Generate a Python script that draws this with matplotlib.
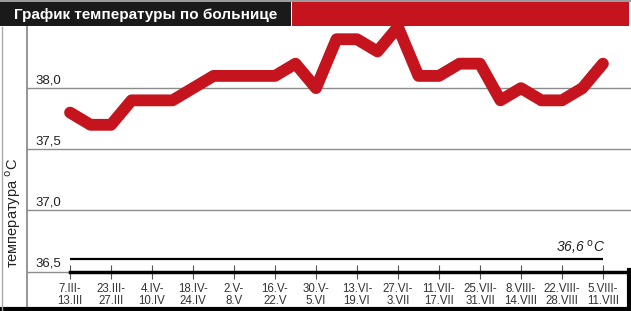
import matplotlib
matplotlib.use("Agg")
import matplotlib.pyplot as plt
import matplotlib.transforms as mtransforms
from matplotlib.patches import Rectangle
from matplotlib.lines import Line2D

plt.rcParams["font.family"] = ["Liberation Sans", "DejaVu Sans"]

# weekly values, ticks every two weeks
temps = [37.8, 37.7, 37.7, 37.9, 37.9, 37.9, 38.0, 38.1, 38.1, 38.1, 38.1, 38.2, 38.0, 38.4,
         38.4, 38.3, 38.5, 38.1, 38.1, 38.2, 38.2, 37.9, 38.0, 37.9, 37.9, 38.0, 38.2]
weeks = list(range(len(temps)))
tick_labels = ["7.III-\n13.III", "23.III-\n27.III", "4.IV-\n10.IV", "18.IV-\n24.IV",
               "2.V-\n8.V", "16.V-\n22.V", "30.V-\n5.VI", "13.VI-\n19.VI", "27.VI-\n3.VII",
               "11.VII-\n17.VII", "25.VII-\n31.VII", "8.VIII-\n14.VIII", "22.VIII-\n28.VIII",
               "5.VIII-\n11.VIII"]
tick_pos = [2 * i for i in range(len(tick_labels))]
grid_vals = [36.5, 37.0, 37.5, 38.0]
grid_text = ["36,5", "37,0", "37,5", "38,0"]
norm_temp = 36.6

RED = "#c5141d"
W, H = 631, 311

fig = plt.figure(figsize=(W / 100, H / 100), dpi=100)
ax = fig.add_axes([27 / W, 0, 1 - 27 / W, (H - 27) / H])
ax.set_xlim(-2.1, 27.37)
ax.set_ylim(36.177, 38.5)

for s in ["top", "right"]:
    ax.spines[s].set_visible(False)
ax.spines["left"].set_color("#8c8c8c")
ax.spines["left"].set_linewidth(1.3)
ax.spines["bottom"].set_position(("data", 36.5))
ax.spines["bottom"].set_bounds(0, 27.37)
ax.spines["bottom"].set_linewidth(2.5)
ax.spines["bottom"].set_color("black")

ax.set_yticks(grid_vals)
ax.tick_params(axis="y", length=0, labelleft=False)
ax.yaxis.grid(True, color="#8c8c8c", linewidth=1.0)
ax.set_axisbelow(True)

ax.set_xticks(tick_pos)
ax.set_xticklabels(tick_labels, fontsize=8.3, color="#333333", linespacing=1.0,
                   family=["Liberation Sans Narrow", "Liberation Sans"])
ax.tick_params(axis="x", direction="inout", length=10, width=0.8, color="#555555", pad=3)

trans = mtransforms.blended_transform_factory(ax.transAxes, ax.transData)
for v, t in zip(grid_vals, grid_text):
    ax.text(0.0135, v + 0.015, t, transform=trans, fontsize=9.5, color="#222222",
            ha="left", va="bottom")

# norm line
ax.plot([0, tick_pos[-1]], [norm_temp, norm_temp], color="black", linewidth=1.6,
        solid_capstyle="butt")
ax.text(tick_pos[-1] + 0.1, norm_temp + 0.03, "36,6 $^{\\mathrm{o}}$C", fontsize=10,
        style="italic", ha="right", va="bottom", color="#222222")

ax.plot(weeks, temps, color=RED, linewidth=8.5, solid_capstyle="round",
        solid_joinstyle="round", clip_on=False, zorder=5)

# title bar
fig.patches.append(Rectangle((0, (H - 26) / H), 291 / W, 24 / H, transform=fig.transFigure,
                             facecolor="#1a1a1a", edgecolor="none"))
fig.patches.append(Rectangle((292 / W, (H - 26) / H), 337 / W, 24 / H, transform=fig.transFigure,
                             facecolor=RED, edgecolor="none"))
fig.lines.append(Line2D([0, 1], [1 - 1 / H, 1 - 1 / H], transform=fig.transFigure,
                        color="#888888", linewidth=1.2))
fig.text(14 / W, 1 - 14.5 / H, "График температуры по больнице", color="white",
         fontsize=11, fontweight="bold", ha="left", va="center")

# bottom frame
fig.lines.append(Line2D([0, 1], [2 / H, 2 / H], transform=fig.transFigure,
                        color="black", linewidth=3))
fig.lines.append(Line2D([629 / W, 629 / W], [2 / H, (H - 270) / H], transform=fig.transFigure,
                        color="black", linewidth=3))
fig.lines.append(Line2D([1.5 / W, 1.5 / W], [0, (H - 27) / H], transform=fig.transFigure,
                        color="#aaaaaa", linewidth=1))

fig.text(13.5 / W, 1 - 213 / H, "температура $^{\\mathrm{o}}$C", rotation=90, fontsize=10.5,
         color="#222222", ha="center", va="center")

fig.savefig("out.png", dpi=100)
